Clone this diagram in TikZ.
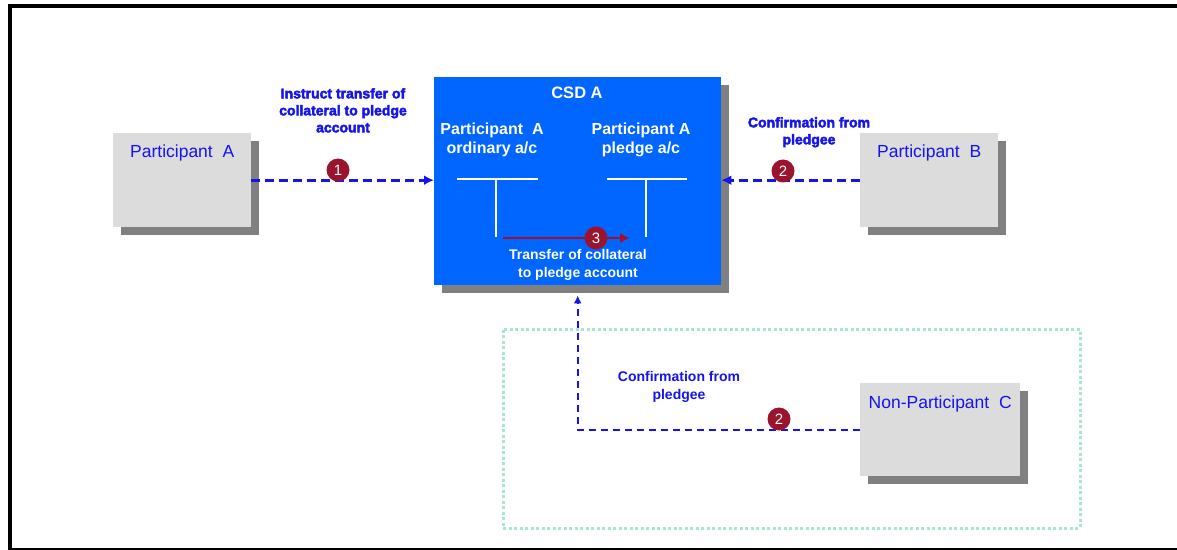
\documentclass[tikz,border=0pt]{standalone}
\usepackage{fontspec}
\setmainfont{Liberation Sans}
\newfontfamily\heavyfont[FakeBold=3]{Liberation Sans Bold}
\usetikzlibrary{arrows.meta,shadows}
\definecolor{boxgray}{HTML}{DCDCDC}
\definecolor{shadowgray}{HTML}{808080}
\definecolor{csdblue}{HTML}{0066FF}
\definecolor{tblue}{RGB}{20,20,235}
\definecolor{numred}{RGB}{155,20,45}
\definecolor{arrred}{RGB}{165,15,40}
\definecolor{mint}{HTML}{A8E6CF}
\newcommand\myfs[2]{\fontsize{#1bp}{#2bp}\selectfont}
\tikzset{
  shbox/.style={anchor=north west, inner sep=0, draw=none,
    drop shadow={shadow xshift=8bp, shadow yshift=-8bp, fill=shadowgray, opacity=1}},
  partbox/.style={shbox, fill=boxgray},
  boxtitle/.style={anchor=base, yshift=-25bp, inner sep=0, text=tblue, font=\myfs{17.5}{20}},
  whitetext/.style={text=white, font=\bfseries\myfs{16}{19}, align=center, inner sep=0, anchor=north},
  flowtext/.style={text=tblue, font=\heavyfont\myfs{14}{17}, align=center, inner sep=0, anchor=north},
  numcircle/.style={circle, fill=numred, text=white, minimum size=23bp, inner sep=0, font=\myfs{15}{15}},
  bluedash/.style={draw=tblue, line width=3bp, dash pattern=on 9bp off 5bp, -{Latex[length=10bp,width=10bp]}},
  bluedashthin/.style={draw=tblue, line width=2bp, dash pattern=on 7bp off 5bp, -{Latex[length=8bp,width=8bp]}},
  redarrow/.style={draw=arrred, line width=2.5bp, -{Latex[length=10bp,width=10bp]}},
  tline/.style={draw=white, line width=1.5bp},
}
\begin{document}
\begin{tikzpicture}[x=1bp,y=-1bp]
\useasboundingbox (0,0) rectangle (1177,550);
% frame
\draw[line width=4bp] (10,550) -- (10,6) -- (1177,6);
\draw[line width=1.2bp] (10,549) -- (1177,549);
% dotted group
\draw[mint, line width=3bp, dash pattern=on 3bp off 2.5bp] (503,330) rectangle (1080,528);
% boxes
\node[partbox, minimum width=138bp, minimum height=94bp,
  label={[boxtitle]north:{Participant~~A}}] (pa) at (113,133) {};
\node[partbox, minimum width=138bp, minimum height=94bp,
  label={[boxtitle]north:{Participant~~B}}] (pb) at (860,133) {};
\node[partbox, minimum width=160bp, minimum height=93bp,
  label={[boxtitle]north:{Non-Participant~~C}}] (npc) at (860,383) {};
\node[shbox, fill=csdblue, minimum width=287bp, minimum height=208bp] (csd) at (434,77) {};
% CSD contents
\node[whitetext, font=\bfseries\myfs{16.5}{19}] (csdt) at (577,87) {CSD A};
\node[whitetext] (oacc) at (492,123) {Participant~~A\\ordinary a/c};
\node[whitetext] (pacc) at (641,123) {Participant A\\pledge a/c};
\draw[tline] (457,179) -- (538,179) (496,179) -- (496,237);
\draw[tline] (607,179) -- (687,179) (646,179) -- (646,237);
\coordinate (ts) at (503,238);
\coordinate (te) at (630,238);
\draw[redarrow] (ts) -- (te);
\node[whitetext, font=\bfseries\myfs{14}{18}] (ttext) at (578,249) {Transfer of collateral\\to pledge account};
\node[numcircle] (n3) at (596,238) {3};
% connectors
\draw[bluedash] (pa.east) -- (pa.east -| csd.west);
\draw[bluedash] (pb.west) -- (pb.west -| csd.east);
\draw[bluedashthin] (npc.west) -| ([yshift=-10bp]csd.south);
\node[numcircle] (n1) at (338,170) {1};
\node[numcircle] (n2a) at (783,171) {2};
\node[numcircle] (n2b) at (779,419) {2};
% labels
\node[flowtext] (l1) at (343,88) {Instruct transfer of\\collateral to pledge\\account};
\node[flowtext] (l2) at (809,117) {Confirmation from\\pledgee};
\node[flowtext, font=\bfseries\myfs{14}{18}] (l3) at (679,371) {Confirmation from\\pledgee};
\end{tikzpicture}
\end{document}
